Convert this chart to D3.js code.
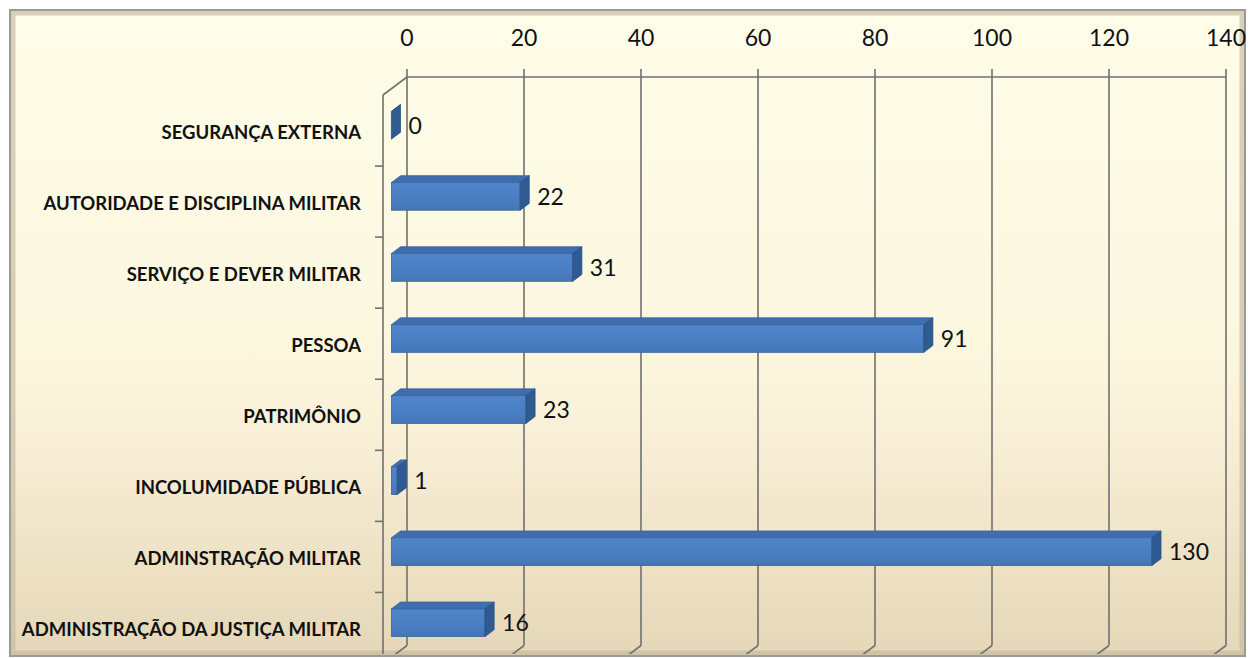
<!DOCTYPE html>
<html>
<head>
<meta charset="utf-8">
<script src="https://cdn.jsdelivr.net/npm/d3@7"></script>
<style>
  body { margin: 0; background: #fff; }
  svg { display: block; }
</style>
</head>
<body>
<div id="chart"></div>
<script>
// dados do gráfico
const categories = [
  "SEGURANÇA EXTERNA",
  "AUTORIDADE E DISCIPLINA MILITAR",
  "SERVIÇO E DEVER MILITAR",
  "PESSOA",
  "PATRIMÔNIO",
  "INCOLUMIDADE PÚBLICA",
  "ADMINSTRAÇÃO MILITAR",
  "ADMINISTRAÇÃO DA JUSTIÇA MILITAR"
];
const values = [0, 22, 31, 91, 23, 1, 130, 16];
const tickValues = [0, 20, 40, 60, 80, 100, 120, 140];

const W = 1248, H = 658;
const frame = { x: 10, y: 10, w: 1235, h: 646 };
const wall = { left: 407, right: 1226, top: 77, bottom: 645.5 };
const depth = { dx: -24, dy: 18 };   // vetor de profundidade (parede de trás -> frente)
const fFront = 0.65, fBack = 0.27;   // profundidade da barra
const barTop = 0.32, barBottom = 0.71;

const svg = d3.select("#chart").append("svg")
  .attr("width", W)
  .attr("height", H);

const defs = svg.append("defs");

const bg = defs.append("linearGradient")
  .attr("id", "bg").attr("x1", 0).attr("y1", 0).attr("x2", 0).attr("y2", 1);
bg.append("stop").attr("offset", "0%").attr("stop-color", "#fefde9");
bg.append("stop").attr("offset", "55%").attr("stop-color", "#fcf6de");
bg.append("stop").attr("offset", "75%").attr("stop-color", "#f4e9cf");
bg.append("stop").attr("offset", "100%").attr("stop-color", "#e5d7b7");

const frontGrad = defs.append("linearGradient")
  .attr("id", "barFront").attr("x1", 0).attr("y1", 0).attr("x2", 0).attr("y2", 1);
frontGrad.append("stop").attr("offset", "0%").attr("stop-color", "#4f85c9");
frontGrad.append("stop").attr("offset", "60%").attr("stop-color", "#4a7ec2");
frontGrad.append("stop").attr("offset", "100%").attr("stop-color", "#4575b6");

defs.append("clipPath").attr("id", "plotClip")
  .append("rect")
  .attr("x", frame.x + 2).attr("y", frame.y + 2)
  .attr("width", frame.w - 4).attr("height", frame.h - 4);

// fundo e moldura
svg.append("rect")
  .attr("x", frame.x).attr("y", frame.y)
  .attr("width", frame.w).attr("height", frame.h)
  .attr("fill", "url(#bg)");

svg.append("rect")
  .attr("x", frame.x + 3).attr("y", frame.y + 3)
  .attr("width", frame.w - 6).attr("height", frame.h - 6)
  .attr("fill", "none")
  .attr("stroke", "#c4b89d")
  .attr("stroke-opacity", 0.65)
  .attr("stroke-width", 5);

svg.append("rect")
  .attr("x", frame.x).attr("y", frame.y)
  .attr("width", frame.w).attr("height", frame.h)
  .attr("fill", "none")
  .attr("stroke", "#9a9a9a")
  .attr("stroke-width", 2);

// escalas
const x = d3.scaleLinear()
  .domain([0, 140])
  .range([wall.left, wall.right]);

const y = d3.scaleBand()
  .domain(categories)
  .range([wall.top, wall.bottom])
  .paddingInner(0)
  .paddingOuter(0);

const bw = y.bandwidth();
const plot = svg.append("g").attr("clip-path", "url(#plotClip)");

const gridColor = "#707070";

// linhas de grade na parede de trás + chão
tickValues.forEach(t => {
  plot.append("line")
    .attr("x1", x(t)).attr("x2", x(t))
    .attr("y1", wall.top - 8).attr("y2", wall.bottom)
    .attr("stroke", gridColor).attr("stroke-width", 1.6);
  plot.append("line")
    .attr("x1", x(t)).attr("y1", wall.bottom)
    .attr("x2", x(t) + depth.dx).attr("y2", wall.bottom + depth.dy)
    .attr("stroke", gridColor).attr("stroke-width", 1.6);
});

// borda superior da parede
plot.append("line")
  .attr("x1", wall.left).attr("x2", wall.right)
  .attr("y1", wall.top).attr("y2", wall.top)
  .attr("stroke", gridColor).attr("stroke-width", 1.6);

// parede lateral (eixo das categorias)
plot.append("line")
  .attr("x1", wall.left).attr("y1", wall.top)
  .attr("x2", wall.left + depth.dx).attr("y2", wall.top + depth.dy)
  .attr("stroke", gridColor).attr("stroke-width", 1.6);
plot.append("line")
  .attr("x1", wall.left + depth.dx).attr("y1", wall.top + depth.dy)
  .attr("x2", wall.left + depth.dx).attr("y2", wall.bottom + depth.dy)
  .attr("stroke", gridColor).attr("stroke-width", 1.6);

// marcas do eixo de categorias
d3.range(1, categories.length + 1).forEach(i => {
  const yy = wall.top + i * bw + depth.dy;
  plot.append("line")
    .attr("x1", wall.left + depth.dx - 8).attr("x2", wall.left + depth.dx)
    .attr("y1", yy).attr("y2", yy)
    .attr("stroke", gridColor).attr("stroke-width", 1.6);
});

// rótulos do eixo de valores (topo)
svg.selectAll(".tick-label")
  .data(tickValues)
  .enter()
  .append("text")
  .attr("class", "tick-label")
  .attr("x", d => x(d))
  .attr("y", 46)
  .attr("text-anchor", "middle")
  .style("font-family", "Lato, 'Open Sans', sans-serif")
  .style("font-size", "23px")
  .style("fill", "#111")
  .text(d => d);

// rótulos das categorias
svg.selectAll(".cat-label")
  .data(categories)
  .enter()
  .append("text")
  .attr("class", "cat-label")
  .attr("x", 361)
  .attr("y", d => y(d) + bw * (barTop + barBottom) / 2 + depth.dy * fFront + 7)
  .attr("dy", "0.35em")
  .attr("text-anchor", "end")
  .style("font-family", "Lato, 'Open Sans', sans-serif")
  .style("font-weight", "bold")
  .style("font-size", "18.5px")
  .style("fill", "#111")
  .text(d => d);

// barras 3D
const bars = categories.map((c, i) => {
  const yt = y(c) + bw * barTop;
  const yb = y(c) + bw * barBottom;
  return { cat: c, value: values[i], yt, yb };
});

const pt = (px, py, f) => [px + depth.dx * f, py + depth.dy * f];

const barG = svg.append("g");

barG.selectAll(".bar-top")
  .data(bars)
  .enter()
  .append("polygon")
  .attr("class", "bar-top")
  .attr("points", d => [
    pt(x(0), d.yt, fFront), pt(x(d.value), d.yt, fFront),
    pt(x(d.value), d.yt, fBack), pt(x(0), d.yt, fBack)
  ].map(p => p.join(",")).join(" "))
  .attr("fill", "#3e6eae")
  .attr("stroke", "#3a659c")
  .attr("stroke-width", 0.8);

barG.selectAll(".bar-front")
  .data(bars)
  .enter()
  .append("rect")
  .attr("class", "bar-front")
  .attr("x", d => x(0) + depth.dx * fFront)
  .attr("y", d => d.yt + depth.dy * fFront)
  .attr("width", d => x(d.value) - x(0))
  .attr("height", d => d.yb - d.yt)
  .attr("fill", "url(#barFront)")
  .attr("stroke", "#3a659c")
  .attr("stroke-width", 0.8);

barG.selectAll(".bar-side")
  .data(bars)
  .enter()
  .append("polygon")
  .attr("class", "bar-side")
  .attr("points", d => [
    pt(x(d.value), d.yt, fFront), pt(x(d.value), d.yt, fBack),
    pt(x(d.value), d.yb, fBack), pt(x(d.value), d.yb, fFront)
  ].map(p => p.join(",")).join(" "))
  .attr("fill", "#2f5b92")
  .attr("stroke", "#2a5285")
  .attr("stroke-width", 0.8);

// rótulos de valor
barG.selectAll(".value-label")
  .data(bars)
  .enter()
  .append("text")
  .attr("class", "value-label")
  .attr("x", d => x(d.value) + 1.5)
  .attr("y", d => (d.yt + d.yb) / 2 + depth.dy * fFront)
  .attr("dy", "0.36em")
  .style("font-family", "Lato, 'Open Sans', sans-serif")
  .style("font-size", "23px")
  .style("fill", "#111")
  .text(d => d.value);
</script>
</body>
</html>
